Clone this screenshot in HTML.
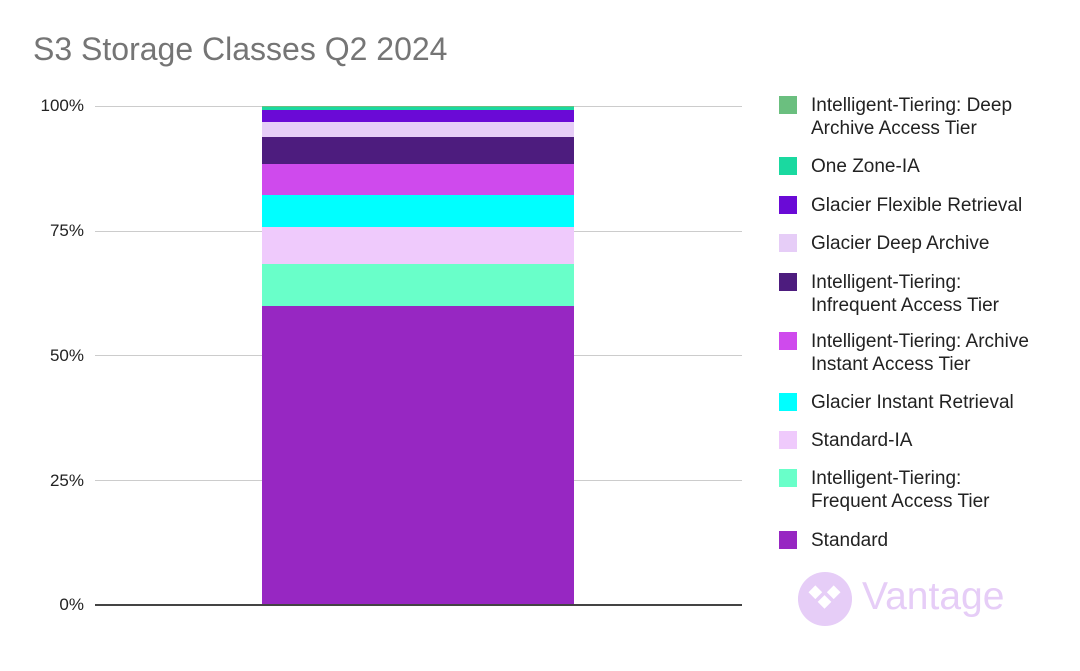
<!DOCTYPE html>
<html><head><style>
body{margin:0;width:1080px;height:671px;background:#fff;font-family:"Liberation Sans",sans-serif;position:relative;overflow:hidden}
.t{position:absolute;left:33px;top:31px;font-size:32px;color:#757575}
.yl{position:absolute;left:0;width:84px;text-align:right;font-size:17px;color:#222}
.g{position:absolute;left:95px;width:647px;height:1px;background:#ccc}
.s{position:absolute;left:262px;width:312px}
.lg{position:absolute;left:779px;font-size:19px;color:#222;line-height:23px}
.lg i{position:absolute;left:0;top:2px;width:18px;height:18px}
.lg span{display:block;padding-left:32px;white-space:nowrap}
</style></head><body>
<div class="t">S3 Storage Classes Q2 2024</div>
<div class="yl" style="top:96px">100%</div>
<div class="yl" style="top:221px">75%</div>
<div class="yl" style="top:346px">50%</div>
<div class="yl" style="top:471px">25%</div>
<div class="yl" style="top:595px">0%</div>
<div class="g" style="top:106px"></div>
<div class="g" style="top:231px"></div>
<div class="g" style="top:355px"></div>
<div class="g" style="top:480px"></div>
<div class="s" style="top:106px;height:1px;background:#6bbf7f"></div>
<div class="s" style="top:107px;height:3px;background:#1ad9a0"></div>
<div class="s" style="top:110px;height:12px;background:#6a0ad6"></div>
<div class="s" style="top:122px;height:15px;background:#e6cdf7"></div>
<div class="s" style="top:137px;height:27px;background:#4d1c7e"></div>
<div class="s" style="top:164px;height:31px;background:#cf4aed"></div>
<div class="s" style="top:195px;height:32px;background:#00ffff"></div>
<div class="s" style="top:227px;height:37px;background:#efcafc"></div>
<div class="s" style="top:264px;height:42px;background:#69ffc9"></div>
<div class="s" style="top:306px;height:299px;background:#9727c2"></div>
<div style="position:absolute;left:95px;top:604px;width:647px;height:2px;background:#444"></div>
<div class="lg" style="top:94px"><i style="background:#6bbf7f"></i><span>Intelligent-Tiering: Deep<br>Archive Access Tier</span></div>
<div class="lg" style="top:155px"><i style="background:#1ad9a0"></i><span>One Zone-IA</span></div>
<div class="lg" style="top:194px"><i style="background:#6a0ad6"></i><span>Glacier Flexible Retrieval</span></div>
<div class="lg" style="top:232px"><i style="background:#e6cdf7"></i><span>Glacier Deep Archive</span></div>
<div class="lg" style="top:271px"><i style="background:#4d1c7e"></i><span>Intelligent-Tiering:<br>Infrequent Access Tier</span></div>
<div class="lg" style="top:330px"><i style="background:#cf4aed"></i><span>Intelligent-Tiering: Archive<br>Instant Access Tier</span></div>
<div class="lg" style="top:391px"><i style="background:#00ffff"></i><span>Glacier Instant Retrieval</span></div>
<div class="lg" style="top:429px"><i style="background:#efcafc"></i><span>Standard-IA</span></div>
<div class="lg" style="top:467px"><i style="background:#69ffc9"></i><span>Intelligent-Tiering:<br>Frequent Access Tier</span></div>
<div class="lg" style="top:529px"><i style="background:#9727c2"></i><span>Standard</span></div>
<svg style="position:absolute;left:797px;top:571px" width="56" height="56" viewBox="0 0 58 58">
<circle cx="29" cy="29" r="28" fill="#e6cdf7"/>
<g fill="#fff"><rect x="14" y="17" width="10" height="10" transform="rotate(45 19 22)"/><rect x="33" y="17" width="10" height="10" transform="rotate(45 38 22)"/><rect x="23.5" y="27" width="10" height="10" transform="rotate(45 28.5 32)"/></g>
</svg>
<div style="position:absolute;left:862px;top:575px;font-size:39px;color:#e6cdf7">Vantage</div>
</body></html>
